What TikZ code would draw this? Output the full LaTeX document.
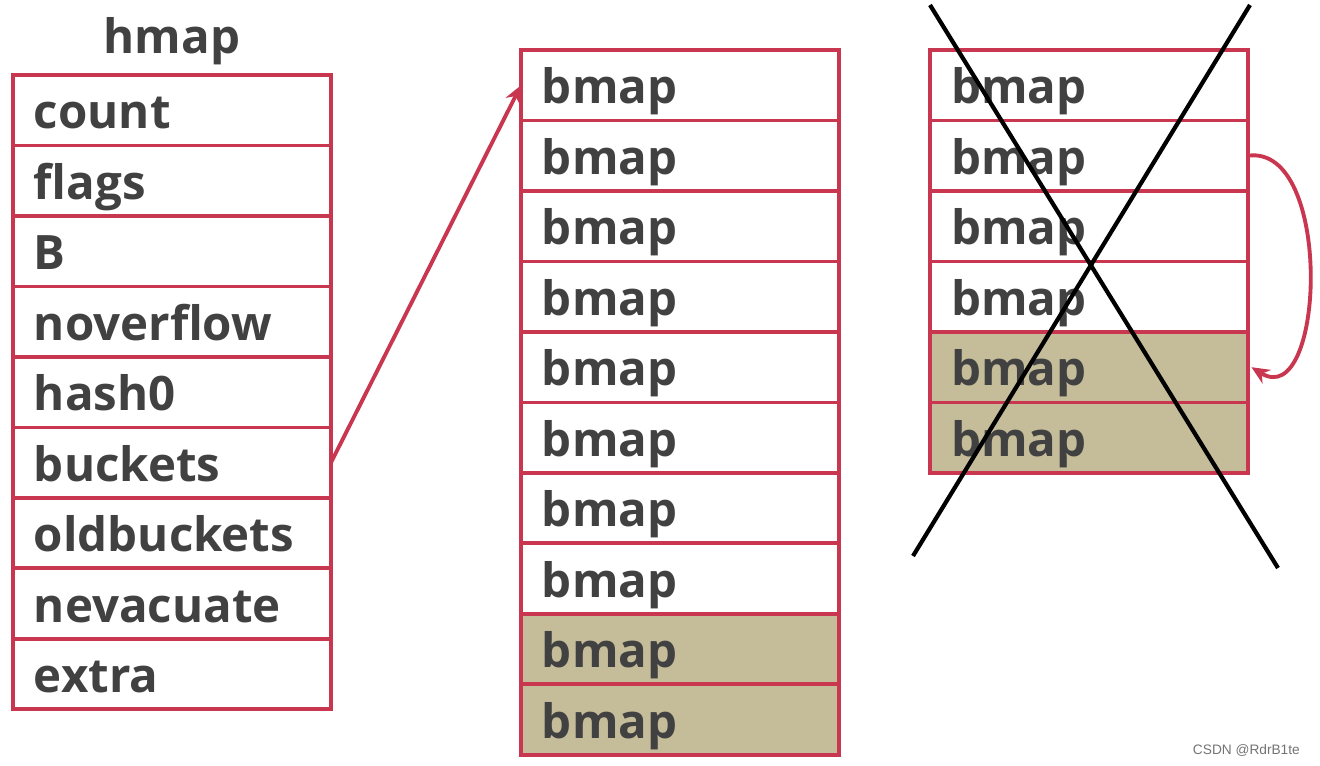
\documentclass[tikz,border=0pt]{standalone}
\usepackage{fontspec}
\setmainfont{Open Sans}
\setsansfont{Liberation Sans}
\usepackage{xcolor}
\usetikzlibrary{arrows.meta,positioning}
\definecolor{hred}{HTML}{C8374F}
\definecolor{hkhaki}{HTML}{C5BC9A}
\definecolor{htext}{HTML}{414141}
\tikzset{
  hfield/.style={
    draw=hred,
    fill=white,
    line width=2.2pt,
    outer sep=0pt,
    inner xsep=0.42cm,
    inner ysep=0pt,
    text width=5.52cm,
    minimum height=1.41cm,
    align=left,
    text height=25pt,
    text depth=4pt,
    text=htext,
    font=\fontsize{27}{30}\selectfont\bfseries
  },
  hfull/.style={hfield,fill=hkhaki},
  hlink/.style={-{Stealth[length=3.6mm,width=3.2mm]},draw=hred,line width=2.2pt},
  hcross/.style={draw=black,line width=2.4pt}
}
\begin{document}
\begin{tikzpicture}[x=0.02cm,y=-0.02cm,node distance=0pt]
  \useasboundingbox (0,0) rectangle (1320,765);
  % hmap struct
  \node[hfield,anchor=north west] (hcount) at (13,75) {count};
  \node[hfield,below=of hcount] (hflags) {flags};
  \node[hfield,below=of hflags] (hB) {B};
  \node[hfield,below=of hB] (hnoverflow) {noverflow};
  \node[hfield,below=of hnoverflow] (hhash) {hash0};
  \node[hfield,below=of hhash] (hbuckets) {buckets};
  \node[hfield,below=of hbuckets] (holdbuckets) {oldbuckets};
  \node[hfield,below=of holdbuckets] (hnevacuate) {nevacuate};
  \node[hfield,below=of hnevacuate] (hextra) {extra};
  \node[above=2pt of hcount,text=htext,font=\fontsize{27}{30}\selectfont\bfseries] (htitle) {hmap};
  % new buckets
  \node[hfield,anchor=north west] (b1) at (521,50) {bmap};
  \node[hfield,below=of b1] (b2) {bmap};
  \node[hfield,below=of b2] (b3) {bmap};
  \node[hfield,below=of b3] (b4) {bmap};
  \node[hfield,below=of b4] (b5) {bmap};
  \node[hfield,below=of b5] (b6) {bmap};
  \node[hfield,below=of b6] (b7) {bmap};
  \node[hfield,below=of b7] (b8) {bmap};
  \node[hfull,below=of b8] (b9) {bmap};
  \node[hfull,below=of b9] (b10) {bmap};
  % old buckets
  \node[hfield,anchor=north west] (o1) at (930,50) {bmap};
  \node[hfield,below=of o1] (o2) {bmap};
  \node[hfield,below=of o2] (o3) {bmap};
  \node[hfield,below=of o3] (o4) {bmap};
  \node[hfull,below=of o4] (o5) {bmap};
  \node[hfull,below=of o5] (o6) {bmap};
  \draw[hlink] (hbuckets.east) -- (b1.west);
  \draw[hlink] (o2.east) to[out=8,in=-32,looseness=1.05] ([xshift=2pt]o5.east);
  % crossed out
  \draw[hcross] (930,5) -- (1278,568);
  \draw[hcross] (1250,5) -- (913,556);
  \node[anchor=east,text=black!55,font=\sffamily\fontsize{7.8}{9}\selectfont] (wmark) at (1306,750) {CSDN @RdrB1te};
\end{tikzpicture}
\end{document}
